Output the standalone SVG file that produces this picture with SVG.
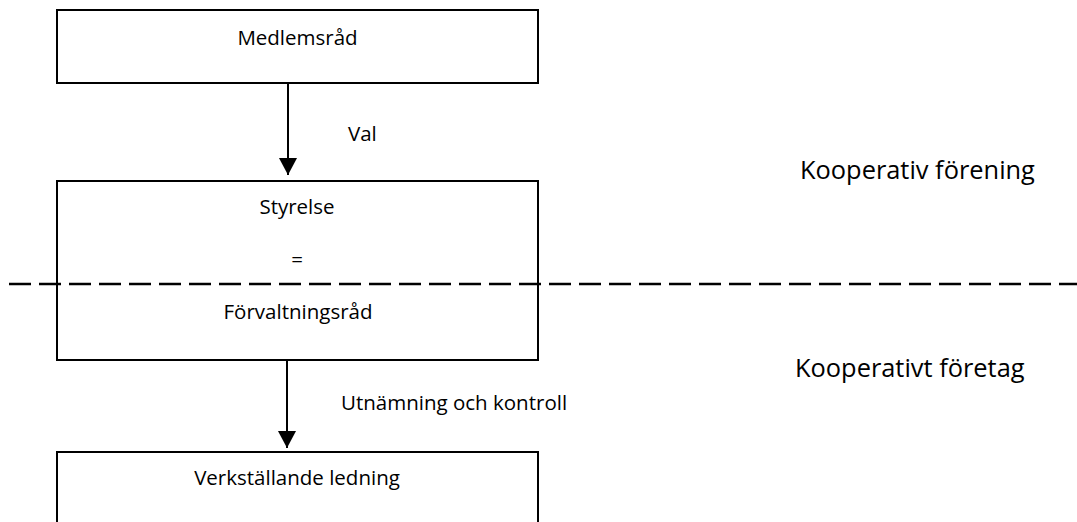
<svg xmlns="http://www.w3.org/2000/svg" width="1077" height="522" viewBox="0 0 1077 522">
  <style>
    .box { fill: #ffffff; stroke: #000000; stroke-width: 2; }
    .lbl { font-family: "Open Sans", "Noto Sans", "Liberation Sans", sans-serif; font-size: 20.5px; fill: #000000; }
    .big { font-family: "Open Sans", "Noto Sans", "Liberation Sans", sans-serif; font-size: 25.4px; fill: #000000; }
    .mid { text-anchor: middle; }
    .link { stroke: #000000; stroke-width: 2; fill: none; }
    .divider { stroke: #000000; stroke-width: 2.5; stroke-dasharray: 22 8; fill: none; }
  </style>
  <defs>
    <marker id="arrowhead" markerUnits="userSpaceOnUse" markerWidth="18" markerHeight="18" refX="17" refY="9" orient="auto">
      <path d="M0,0 L17,9 L0,18 Z" fill="#000000"/>
    </marker>
  </defs>

  <rect width="1077" height="522" fill="#ffffff"/>

  <g id="node-medlemsrad">
    <rect class="box" x="57" y="10" width="481" height="73"/>
    <text class="lbl mid" x="297.5" y="45">Medlemsråd</text>
  </g>

  <g id="node-styrelse">
    <rect class="box" x="57" y="181" width="481" height="179"/>
    <text class="lbl mid" x="297" y="214">Styrelse</text>
    <text class="lbl mid" x="297" y="267">=</text>
    <text class="lbl mid" x="298" y="319">Förvaltningsråd</text>
  </g>

  <g id="node-ledning">
    <rect class="box" x="57" y="452" width="481" height="80"/>
    <text class="lbl mid" x="297" y="485">Verkställande ledning</text>
  </g>

  <g id="divider">
    <line class="divider" x1="9" y1="284" x2="1077" y2="284"/>
  </g>

  <g id="connectors">
    <line class="link" x1="288" y1="84" x2="288" y2="175" marker-end="url(#arrowhead)"/>
    <text class="lbl" x="348" y="141">Val</text>
    <line class="link" x1="287" y1="360" x2="287" y2="448" marker-end="url(#arrowhead)"/>
    <text class="lbl" x="341" y="410">Utnämning och kontroll</text>
  </g>

  <g id="zone-labels">
    <text class="big" x="800" y="179">Kooperativ förening</text>
    <text class="big" x="795" y="377">Kooperativt företag</text>
  </g>
</svg>
